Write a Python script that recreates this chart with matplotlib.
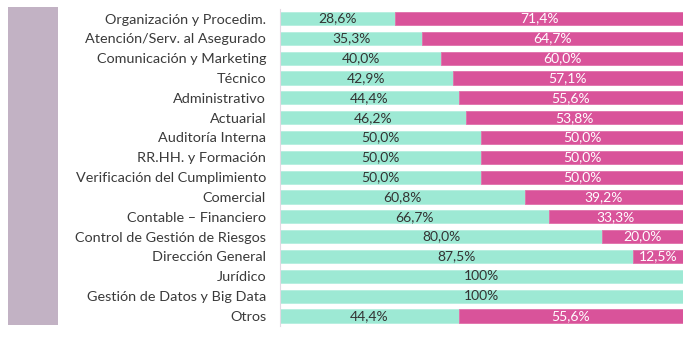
import matplotlib.pyplot as plt
from matplotlib.patches import Rectangle

categorias = ["Organización y Procedim.", "Atención/Serv. al Asegurado",
              "Comunicación y Marketing", "Técnico", "Administrativo", "Actuarial",
              "Auditoría Interna", "RR.HH. y Formación", "Verificación del Cumplimiento",
              "Comercial", "Contable – Financiero", "Control de Gestión de Riesgos",
              "Dirección General", "Jurídico", "Gestión de Datos y Big Data", "Otros"]
verde = [28.6, 35.3, 40.0, 42.9, 44.4, 46.2, 50.0, 50.0, 50.0, 60.8, 66.7, 80.0, 87.5, 100, 100, 44.4]
rosa = [71.4, 64.7, 60.0, 57.1, 55.6, 53.8, 50.0, 50.0, 50.0, 39.2, 33.3, 20.0, 12.5, 0, 0, 55.6]

c_verde = "#9de9d4"
c_rosa = "#d9539a"

plt.rcParams['font.family'] = ['Lato', 'DejaVu Sans']

fig = plt.figure(figsize=(7, 3.37), dpi=100)
ax = fig.add_axes([0.4, 0.033, 0.9757 - 0.4, 0.9415])

# bloque lateral
fig.add_artist(Rectangle((8 / 700, 1 - 325 / 337), 50 / 700, 318 / 337,
                         transform=fig.transFigure, color="#c2b2c4", lw=0))

y = list(range(len(categorias)))
ax.barh(y, verde, height=0.66, color=c_verde, edgecolor="#b5efdf", lw=0.6)
ax.barh(y, rosa, left=verde, height=0.66, color=c_rosa, edgecolor="#e070aa", lw=0.6)


def fmt(v):
    if v == 100:
        return "100%"
    return f"{v:.1f}%".replace(".", ",")


for i in y:
    ax.text(verde[i] / 2, i, fmt(verde[i]), ha="center", va="center",
            fontsize=10, color="#333333")
    if rosa[i] > 0:
        ax.text(verde[i] + rosa[i] / 2, i, fmt(rosa[i]), ha="center", va="center",
                fontsize=10, color="white")

ax.set_xlim(0, 100)
ax.set_ylim(15.5, -0.5)
ax.set_yticks(y)
ax.set_yticklabels(categorias, fontsize=10.4, color="#3a3a3a")
ax.tick_params(axis="y", length=0, pad=10)
ax.set_xticks([])
for s in ["top", "right", "bottom"]:
    ax.spines[s].set_visible(False)
ax.spines["left"].set_color("#e3d9e3")

fig.savefig("out.png", dpi=100)
